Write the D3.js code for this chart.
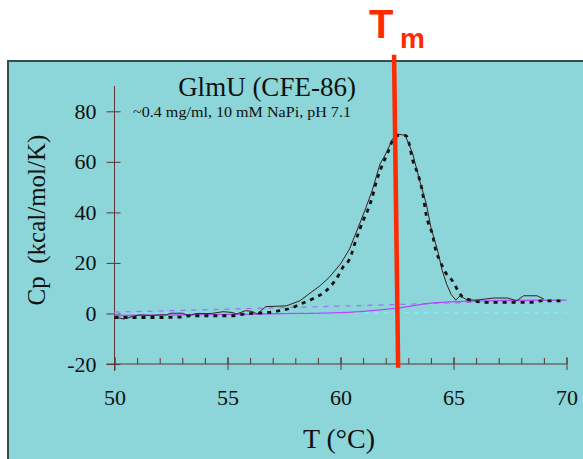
<!DOCTYPE html>
<html>
<head>
<meta charset="utf-8">
<script src="https://cdn.jsdelivr.net/npm/d3@7/dist/d3.min.js"></script>
<style>
  body { margin: 0; background: #fff; }
  svg { display: block; }
</style>
</head>
<body>
<div id="dsc"></div>
<script>
// measured Cp trace (thin solid line)
var expT  = [50, 50.4, 50.8, 51.1, 51.6, 52.0, 52.3, 52.5, 53.0, 53.3, 53.6, 54.3, 54.8, 55.2, 55.4, 55.8, 56.1, 56.3, 56.7, 57.6, 58.2, 58.6, 59.1, 59.5, 59.7, 60.0, 60.4, 60.9, 61.1, 61.4, 61.75, 62.0, 62.3, 62.5, 62.8, 62.9, 63.2, 63.5, 63.8, 64.0, 64.3, 64.5, 64.7, 64.9, 65.1, 65.3, 65.6, 66.0, 66.8, 67.4, 67.8, 68.1, 68.7, 69.0];
var expCp = [-1.3, -2.2, -1.2, -0.6, -0.8, -0.6, -0.5, 0.1, 0.1, -0.9, 0, 0, 0.7, 0.4, -0.2, 1.1, 0.8, -0.2, 2.7, 3.0, 5.0, 7.7, 11, 14.3, 16.4, 19.6, 25.5, 36.7, 41.3, 48.6, 59.2, 63.1, 69, 71, 70.6, 69.7, 63.1, 52.6, 43.3, 34, 24.8, 17, 11.5, 7.5, 5.3, 7.0, 5.3, 5.3, 6.1, 6.1, 5.0, 7.0, 7.0, 5.7];

// fitted curve (heavy dotted line)
var fitT  = [50, 51, 52, 53, 53.3, 54.3, 55.2, 55.8, 56.3, 56.8, 57.3, 57.8, 58.3, 58.8, 59.4, 59.7, 59.9, 60.1, 60.4, 60.7, 61.0, 61.2, 61.4, 61.6, 61.9, 62.1, 62.3, 62.6, 62.9, 63.0, 63.2, 63.4, 63.6, 63.8, 64.1, 64.2, 64.4, 64.6, 65.0, 65.2, 65.4, 65.9, 66.4, 67.0, 68.0, 68.4, 68.9, 69.9];
var fitCp = [-1.6, -1.6, -1.6, -1.4, -0.9, -0.9, -0.9, -0.2, 0.1, 0.4, 1.1, 2.1, 4.0, 5.9, 9.3, 12.3, 14.9, 18.2, 21.5, 29.5, 36.7, 40.7, 45.9, 52.6, 59.8, 63.8, 68.4, 70.5, 70.4, 68.4, 60.5, 55.8, 49.3, 38.7, 30.1, 25.5, 20.9, 16.9, 12.3, 9.0, 6.6, 5.0, 4.4, 4.4, 4.4, 4.4, 5.0, 5.0];

// baselines
var preT  = [50, 60.4, 65.8];
var preCp = [0.5, 3.0, 4.4];
var sigT  = [50, 54, 58, 59.6, 61, 62.5, 64, 65.5, 67, 70];
var sigCp = [-0.8, -0.5, 0, 0.2, 0.8, 2.1, 4.1, 4.8, 5.1, 5.3];
var postT  = [50, 70];
var postCp = [0.2, 0.3];

// Tm marker
var tmT  = [62.37, 62.55];
var tmCp = [102.4, -21.5];

var xMajor = [50, 55, 60, 65, 70];
var xMinor = d3.range(50, 71, 1);
var yTicks = [-20, 0, 20, 40, 60, 80];

var width = 583, height = 459;
var serif = "'Liberation Serif', 'DejaVu Serif', serif";
var axisColor = "#5e3535";

var svg = d3.select("#dsc").append("svg")
    .attr("width", width)
    .attr("height", height);

// teal panel
svg.append("rect")
    .attr("x", 8).attr("y", 61)
    .attr("width", 620).attr("height", 430)
    .attr("fill", "#8cd5d8")
    .attr("stroke", "#3d4a4c")
    .attr("stroke-width", 2);

var x = d3.scaleLinear().domain([50, 70]).range([114.5, 566.5]);
var y = d3.scaleLinear().domain([-20, 80]).range([364, 111.3]);

// axis lines
svg.append("line")
    .attr("x1", x(50)).attr("x2", x(50))
    .attr("y1", y(90)).attr("y2", y(-20) + 7)
    .attr("stroke", axisColor);
svg.append("line")
    .attr("x1", x(50) - 8).attr("x2", x(70))
    .attr("y1", y(-20)).attr("y2", y(-20))
    .attr("stroke", axisColor);

// y axis with crossing ticks
var yAxis = svg.append("g")
    .attr("transform", `translate(${x(50)},0)`)
    .call(d3.axisLeft(y).tickValues(yTicks).tickSize(8).tickPadding(10)
        .tickFormat(d => String(d)));
yAxis.select(".domain").remove();
yAxis.selectAll(".tick line").attr("x1", 6).attr("stroke", axisColor);
yAxis.selectAll(".tick text")
    .attr("font-family", serif).attr("font-size", 22).attr("fill", "#111");

// x axis: minor ticks up, majors across
var xMin = svg.append("g")
    .attr("transform", `translate(0,${y(-20)})`)
    .call(d3.axisBottom(x).tickValues(xMinor).tickSize(0).tickFormat(""));
xMin.select(".domain").remove();
xMin.selectAll(".tick line").attr("y1", -6).attr("stroke", axisColor);

var xMaj = svg.append("g")
    .attr("transform", `translate(0,${y(-20)})`)
    .call(d3.axisBottom(x).tickValues(xMajor).tickSize(6).tickPadding(19));
xMaj.select(".domain").remove();
xMaj.selectAll(".tick line").attr("y1", -7).attr("stroke", axisColor);
xMaj.selectAll(".tick text")
    .attr("font-family", serif).attr("font-size", 22).attr("fill", "#111");

var line = d3.line()
    .x(d => x(d[0]))
    .y(d => y(d[1]));

function pts(ts, cs) { return ts.map((t, i) => [t, cs[i]]); }

// post-transition baseline (cyan dash)
svg.append("path")
    .attr("d", line(pts(postT, postCp)))
    .attr("fill", "none")
    .attr("stroke", "#7eeefc")
    .attr("stroke-width", 1.5)
    .attr("stroke-dasharray", "4,6");

// pre-transition baseline (violet dash)
svg.append("path")
    .attr("d", line(pts(preT, preCp)))
    .attr("fill", "none")
    .attr("stroke", "#a070f0")
    .attr("stroke-width", 1.2)
    .attr("stroke-dasharray", "5,6");

// sigmoidal baseline
svg.append("path")
    .attr("d", line.curve(d3.curveMonotoneX)(pts(sigT, sigCp)))
    .attr("fill", "none")
    .attr("stroke", "#b548ff")
    .attr("stroke-width", 1.3);

// fit
svg.append("path")
    .attr("d", line.curve(d3.curveMonotoneX)(pts(fitT, fitCp)))
    .attr("fill", "none")
    .attr("stroke", "#111")
    .attr("stroke-width", 2.8)
    .attr("stroke-dasharray", "4,5");

// data
svg.append("path")
    .attr("d", line.curve(d3.curveLinear)(pts(expT, expCp)))
    .attr("fill", "none")
    .attr("stroke", "#3a1e1e")
    .attr("stroke-width", 1);

// titles
svg.append("text")
    .attr("x", 267).attr("y", 96)
    .attr("text-anchor", "middle")
    .attr("font-family", serif).attr("font-size", 27).attr("fill", "#111")
    .text("GlmU (CFE-86)");

svg.append("text")
    .attr("x", 133).attr("y", 117)
    .attr("font-family", serif).attr("font-size", 15).attr("fill", "#111")
    .attr("textLength", 218).attr("lengthAdjust", "spacingAndGlyphs")
    .text("~0.4 mg/ml, 10 mM NaPi, pH 7.1");

svg.append("text")
    .attr("x", 339).attr("y", 448)
    .attr("text-anchor", "middle")
    .attr("font-family", serif).attr("font-size", 28).attr("fill", "#111")
    .text("T (\u00B0C)");

svg.append("text")
    .attr("transform", "translate(45,220) rotate(-90)")
    .attr("text-anchor", "middle")
    .attr("font-family", serif).attr("font-size", 25).attr("fill", "#111")
    .style("white-space", "pre")
    .text("Cp  (kcal/mol/K)");

// Tm line and label
svg.append("path")
    .attr("d", line.curve(d3.curveLinear)(pts(tmT, tmCp)))
    .attr("stroke", "#ff2a00")
    .attr("stroke-width", 4.5);

var tm = svg.append("text")
    .attr("font-family", "'Liberation Sans', Arial, sans-serif")
    .attr("font-weight", "bold")
    .attr("fill", "#ff2a00");
tm.append("tspan").attr("x", 369).attr("y", 38).attr("font-size", 40).text("T");
tm.append("tspan").attr("x", 400).attr("y", 48).attr("font-size", 28).text("m");
</script>
</body>
</html>
